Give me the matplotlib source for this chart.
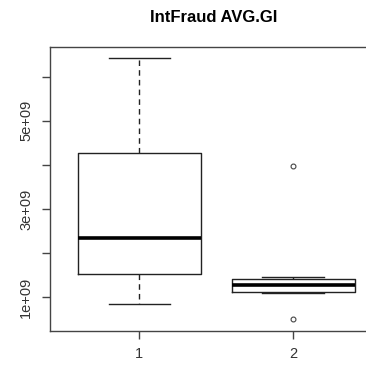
import matplotlib
matplotlib.use("Agg")
import matplotlib.pyplot as plt

plt.rcParams['font.family'] = ['Liberation Sans', 'DejaVu Sans']

# values
groups = ['1', '2']
q1 = [1.53e9, 1.13e9]
med = [2.34e9, 1.28e9]
q3 = [4.27e9, 1.41e9]
whislo = [0.85e9, 1.10e9]
whishi = [6.43e9, 1.45e9]
fliers = [[], [3.98e9, 0.51e9]]

yticks = [1e9, 2e9, 3e9, 4e9, 5e9, 6e9]
ylabels = ['1e+09', '', '3e+09', '', '5e+09', '']

stats = []
for i, g in enumerate(groups):
    stats.append({'label': g, 'q1': q1[i], 'med': med[i], 'q3': q3[i],
                  'whislo': whislo[i], 'whishi': whishi[i], 'fliers': fliers[i]})

fig = plt.figure(figsize=(3.66, 3.67), dpi=100)
W, H = 366, 367
ax = fig.add_axes([50 / W, (H - 330.7) / H, 332.6 / W, 284 / H])

line_col = '#222222'
ax.bxp(stats, positions=[1, 2], widths=0.8, capwidths=0.4,
       boxprops=dict(color=line_col, lw=1),
       whiskerprops=dict(color=line_col, lw=1, linestyle=(0, (4, 3))),
       capprops=dict(color=line_col, lw=1),
       medianprops=dict(color='black', lw=2.6, solid_capstyle='butt'),
       flierprops=dict(marker='o', markersize=3.5, markerfacecolor='none',
                       markeredgecolor='#444444', markeredgewidth=0.8))

ax.set_xlim(0.42, 2.58)
ax.set_ylim(0.243e9, 6.68e9)
ax.set_yticks(yticks)
ax.set_yticklabels(ylabels, rotation=90, va='center')
ax.set_xticks([1, 2])
ax.set_xticklabels(groups)

for s in ax.spines.values():
    s.set_color('#444444')
    s.set_linewidth(1)
ax.tick_params(axis='both', length=6, width=1, color='#444444',
               labelsize=10.5, labelcolor='#333333', pad=6)

fig.text(213.5 / W, 1 - 18 / H, 'IntFraud AVG.GI', ha='center', va='center',
         fontsize=12, fontweight='bold')

fig.savefig('out.png', dpi=100)
